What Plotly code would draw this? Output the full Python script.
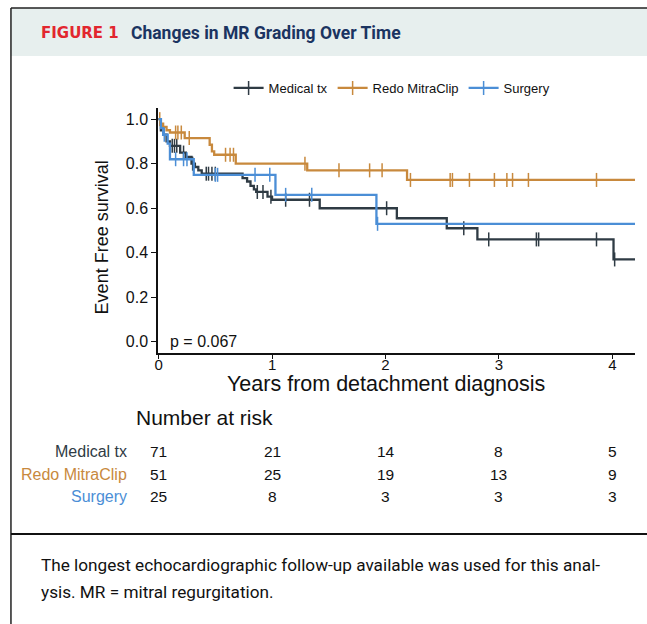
import numpy as np
import plotly.graph_objects as go

# ---------------- data ----------------
groups = ["Medical tx", "Redo MitraClip", "Surgery"]
colors = ["#2F3B44", "#C8893D", "#4B8ED6"]

end_time = 4.2

med_event_t = [0.02, 0.04, 0.07, 0.10, 0.19, 0.24, 0.29, 0.32, 0.35, 0.38,
               0.74, 0.78, 0.81, 0.84, 0.86, 0.96, 1.00, 1.42, 2.10, 2.54, 2.81, 4.01]
med_event_s = [0.95, 0.93, 0.90, 0.88, 0.85, 0.83, 0.80, 0.785, 0.77, 0.755,
               0.735, 0.72, 0.70, 0.685, 0.673, 0.652, 0.638, 0.60, 0.555, 0.51, 0.46, 0.37]
med_censor_t = [0.12, 0.14, 0.16, 0.22, 0.30, 0.42, 0.44, 0.47, 0.50, 0.87, 0.92,
                0.99, 1.12, 1.33, 2.01, 2.69, 2.91, 3.33, 3.35, 3.86, 4.02]

redo_event_t = [0.02, 0.04, 0.07, 0.10, 0.23, 0.45, 0.47, 0.49, 0.68, 1.31, 2.19]
redo_event_s = [0.98, 0.965, 0.95, 0.94, 0.915, 0.885, 0.855, 0.84, 0.80, 0.77, 0.727]
redo_censor_t = [0.01, 0.15, 0.17, 0.20, 0.27, 0.59, 0.63, 0.66, 1.29, 1.59, 1.86,
                 1.97, 2.22, 2.57, 2.59, 2.74, 2.96, 3.07, 3.12, 3.26, 3.86]

surg_event_t = [0.02, 0.04, 0.08, 0.10, 0.31, 1.03, 1.92]
surg_event_s = [0.96, 0.93, 0.89, 0.82, 0.75, 0.66, 0.53]
surg_censor_t = [0.05, 0.15, 0.22, 0.25, 0.50, 0.52, 0.85, 0.98, 1.12, 1.35, 1.93]

risk_times = [0, 1, 2, 3, 4]
med_risk = [71, 21, 14, 8, 5]
redo_risk = [51, 25, 19, 13, 9]
surg_risk = [25, 8, 3, 3, 3]

x_ticks = [0, 1, 2, 3, 4]
y_ticks = [0.0, 0.2, 0.4, 0.6, 0.8, 1.0]
p_value_text = "p = 0.067"

# ---------------- figure ----------------
W, H = 647, 624
PLOT_FONT = "Liberation Sans, Arial, sans-serif"
JOURNAL_FONT = "Roboto, Noto Sans, sans-serif"


def px_x(p):
    return p / W


def px_y(p):
    return 1 - p / H


def surv_at(ev_t, ev_s, t):
    idx = np.searchsorted(np.asarray(ev_t), np.asarray(t), side="right")
    s = np.concatenate([[1.0], np.asarray(ev_s)])
    return s[idx]


series = [
    (med_event_t, med_event_s, med_censor_t, med_risk),
    (redo_event_t, redo_event_s, redo_censor_t, redo_risk),
    (surg_event_t, surg_event_s, surg_censor_t, surg_risk),
]

fig = go.Figure()

for name, col, (et, es, ct, _) in zip(groups, colors, series):
    xs = [0.0] + list(et) + [end_time]
    ys = [1.0] + list(es) + [es[-1]]
    fig.add_trace(go.Scatter(
        x=xs, y=ys, mode="lines", line=dict(color=col, width=2.3, shape="hv"),
        showlegend=False, hoverinfo="skip"))
    fig.add_trace(go.Scatter(
        x=ct, y=surv_at(et, es, ct), mode="markers",
        marker=dict(symbol="line-ns-open", size=10, color=col, line=dict(color=col, width=1.5)),
        showlegend=False, hoverinfo="skip"))

for name, col in zip(groups, colors):
    fig.add_trace(go.Scatter(
        x=[None], y=[None], mode="lines+markers", name=name,
        line=dict(color=col, width=2.3),
        marker=dict(symbol="line-ns-open", size=10, color=col, line=dict(color=col, width=1.5)),
        hoverinfo="skip"))

annotations = []

# header
annotations.append(dict(text="<b>FIGURE 1</b>", x=px_x(35), y=px_y(33), xref="paper", yref="paper",
                        xanchor="left", yanchor="middle", showarrow=False,
                        font=dict(family="DejaVu Sans, sans-serif", size=15, color="#E2262E")))
annotations.append(dict(text="<b>Changes in MR Grading Over Time</b>", x=px_x(126), y=px_y(33),
                        xref="paper", yref="paper", xanchor="left", yanchor="middle", showarrow=False,
                        font=dict(family=JOURNAL_FONT, size=17.5, color="#1B3461")))

# axis titles
annotations.append(dict(text="Years from detachment diagnosis", x=px_x(384), y=px_y(384),
                        xref="paper", yref="paper", xanchor="center", yanchor="middle", showarrow=False,
                        font=dict(family=PLOT_FONT, size=21.5, color="#111")))
annotations.append(dict(text="Event Free survival", x=px_x(99), y=px_y(237), textangle=-90,
                        xref="paper", yref="paper", xanchor="center", yanchor="middle", showarrow=False,
                        font=dict(family=PLOT_FONT, size=18, color="#111")))

# p-value
annotations.append(dict(text=p_value_text, x=0.08, y=0.0, xref="x", yref="y",
                        xanchor="left", yanchor="middle", showarrow=False,
                        font=dict(family=PLOT_FONT, size=16, color="#111")))

# risk table
annotations.append(dict(text="Number at risk", x=px_x(131), y=px_y(417), xref="paper", yref="paper",
                        xanchor="left", yanchor="middle", showarrow=False,
                        font=dict(family=PLOT_FONT, size=21, color="#111")))
row_y = [451, 474, 497]
for name, col, (_, _, _, risk), ry in zip(groups, colors, series, row_y):
    annotations.append(dict(text=name, x=px_x(126), y=px_y(ry), xref="paper", yref="paper",
                            xanchor="right", yanchor="middle", showarrow=False,
                            font=dict(family=PLOT_FONT, size=16, color=col)))
    for t, n in zip(risk_times, risk):
        annotations.append(dict(text=str(n), x=t, y=px_y(ry), xref="x", yref="paper",
                                xanchor="center", yanchor="middle", showarrow=False,
                                font=dict(family=PLOT_FONT, size=15.5, color="#111")))

# caption
annotations.append(dict(text="The longest echocardiographic follow-up available was used for this anal-",
                        x=px_x(35), y=px_y(565), xref="paper", yref="paper", xanchor="left",
                        yanchor="middle", showarrow=False,
                        font=dict(family=JOURNAL_FONT, size=17.2, color="#111")))
annotations.append(dict(text="ysis. MR = mitral regurgitation.",
                        x=px_x(35), y=px_y(592), xref="paper", yref="paper", xanchor="left",
                        yanchor="middle", showarrow=False,
                        font=dict(family=JOURNAL_FONT, size=17.2, color="#111")))

shapes = [
    dict(type="rect", xref="paper", yref="paper", x0=px_x(7), x1=1.0, y0=px_y(56), y1=px_y(8),
         fillcolor="#E7EFEE", line=dict(width=0), layer="below"),
    dict(type="line", xref="paper", yref="paper", x0=px_x(7), x1=1.0, y0=px_y(8), y1=px_y(8),
         line=dict(color="#222", width=1.5)),
    dict(type="line", xref="paper", yref="paper", x0=px_x(7), x1=px_x(7), y0=0, y1=px_y(8),
         line=dict(color="#222", width=1.5)),
    dict(type="line", xref="paper", yref="paper", x0=px_x(7), x1=1.0, y0=px_y(534), y1=px_y(534),
         line=dict(color="#111", width=2)),
]

fig.update_layout(
    width=W, height=H, autosize=False,
    margin=dict(l=0, r=0, t=0, b=0),
    paper_bgcolor="white", plot_bgcolor="white",
    font=dict(family=PLOT_FONT, color="#111"),
    showlegend=True,
    legend=dict(orientation="h", x=px_x(226), y=px_y(88), xanchor="left", yanchor="middle",
                font=dict(family=PLOT_FONT, size=13, color="#111"), itemwidth=30,
                bgcolor="rgba(0,0,0,0)"),
    annotations=annotations,
    shapes=shapes,
    xaxis=dict(domain=[px_x(155), px_x(635)], range=[-0.005, 4.2], tickvals=x_ticks,
               ticks="outside", ticklen=4, tickwidth=1.2, tickcolor="#111",
               ticklabelstandoff=-7,
               showline=True, linecolor="#111", linewidth=1.6, showgrid=False, zeroline=False,
               tickfont=dict(family=PLOT_FONT, size=15, color="#111"), fixedrange=True),
    yaxis=dict(domain=[px_y(353), px_y(108)], range=[-0.05, 1.05], tickvals=y_ticks,
               tickformat=".1f", ticks="outside", ticklen=5, tickwidth=1.2, tickcolor="#111",
               showline=True, linecolor="#111", linewidth=1.6, showgrid=False, zeroline=False,
               tickfont=dict(family=PLOT_FONT, size=16, color="#111"), fixedrange=True),
)

fig.write_html("out.html", config={"displayModeBar": False},
               post_script="document.body.style.margin='0';document.body.style.overflow='hidden';")
